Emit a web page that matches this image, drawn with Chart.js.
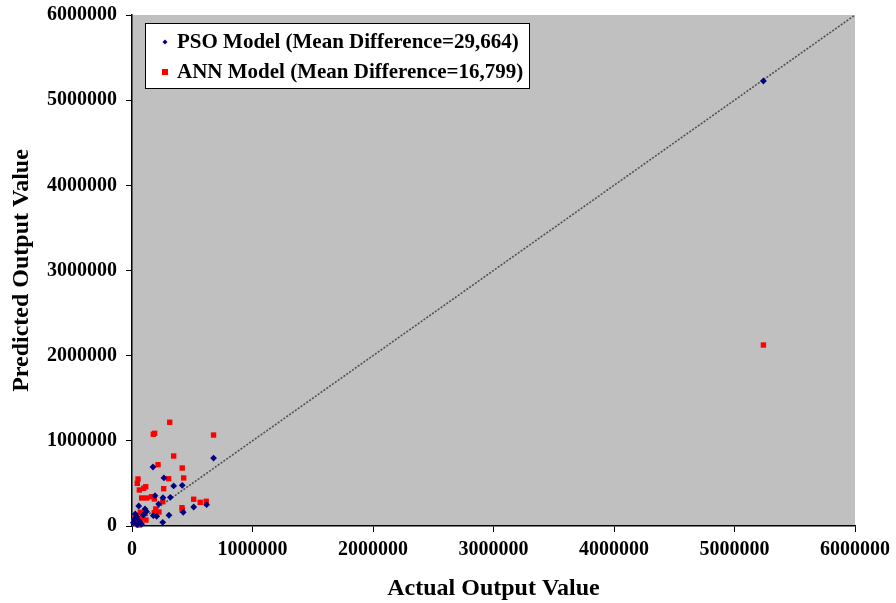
<!DOCTYPE html>
<html>
<head>
<meta charset="utf-8">
<script src="https://cdn.jsdelivr.net/npm/chart.js@4"></script>
<style>
  html, body { margin: 0; padding: 0; background: #fff; }
  #wrap { width: 896px; height: 603px; }
</style>
</head>
<body>
<div id="wrap"><canvas id="myChart"></canvas></div>
<script>
const tickValues = [0, 1000000, 2000000, 3000000, 4000000, 5000000, 6000000];

const psoActual = [5240000, 677000, 174000, 265000, 346000, 417000, 257000, 318000, 191000, 221000,
  56000, 108000, 512000, 619000, 425000, 177000, 205000, 307000, 255000, 27000,
  39000, 94000, 11000, 60000, 20000, 80000, 120000, 45000];
const psoPredicted = [5225000, 798000, 693000, 564000, 470000, 478000, 332000, 337000, 356000, 258000,
  235000, 200000, 223000, 250000, 161000, 121000, 114000, 126000, 43000, 141000,
  109000, 129000, 39000, 60000, 80000, 20000, 170000, 15000];

const annActual = [5240000, 313000, 177000, 188000, 677000, 346000, 216000, 417000, 429000, 304000,
  50000, 44000, 114000, 97000, 61000, 263000, 80000, 122000, 163000, 185000,
  255000, 512000, 566000, 616000, 415000, 417000, 197000, 224000, 185000, 69000,
  102000, 25000, 52000, 116000, 33000, 52000, 15000, 40000, 70000, 90000];
const annPredicted = [2125000, 1218000, 1077000, 1088000, 1068000, 822000, 720000, 681000, 564000, 555000,
  552000, 501000, 461000, 443000, 423000, 438000, 329000, 329000, 344000, 317000,
  285000, 314000, 278000, 290000, 215000, 188000, 200000, 164000, 156000, 161000,
  149000, 90000, 79000, 70000, 32000, 12000, 60000, 120000, 40000, 100000];

const diagonal = [0, 6000000];

const toPoints = (xs, ys) => xs.map((x, i) => ({ x: x, y: ys[i] }));

const font = "'Liberation Serif', 'Times New Roman', serif";

// grey plot area
const plotBg = {
  id: 'plotBg',
  beforeDraw(chart) {
    const { ctx, chartArea: a } = chart;
    ctx.save();
    ctx.fillStyle = '#c0c0c0';
    ctx.fillRect(a.left, a.top, a.right - a.left, a.bottom - a.top);
    ctx.restore();
  }
};

// legend box inside the plot area
const boxLegend = {
  id: 'boxLegend',
  afterDraw(chart) {
    const { ctx, chartArea: a } = chart;
    const x0 = a.left + 13, y0 = a.top + 8;
    ctx.save();
    ctx.fillStyle = '#fff';
    ctx.fillRect(x0, y0, 384, 65);
    ctx.strokeStyle = '#000';
    ctx.lineWidth = 1;
    ctx.strokeRect(x0 + 0.5, y0 + 0.5, 384, 65);
    ctx.font = 'bold 21px ' + font;
    ctx.textBaseline = 'middle';
    ctx.fillStyle = '#000';
    const rows = chart.data.datasets.filter(d => d.legendText);
    rows.forEach((d, i) => {
      const cy = y0 + 19 + i * 30;
      ctx.save();
      ctx.fillStyle = d.backgroundColor;
      if (d.pointStyle === 'rectRot') {
        ctx.beginPath();
        ctx.moveTo(x0 + 20, cy - 2.5);
        ctx.lineTo(x0 + 22.5, cy);
        ctx.lineTo(x0 + 20, cy + 2.5);
        ctx.lineTo(x0 + 17.5, cy);
        ctx.closePath();
        ctx.fill();
      } else {
        ctx.fillRect(x0 + 17, cy - 3, 6, 6);
      }
      ctx.restore();
      ctx.fillText(d.legendText, x0 + 32, cy + 1);
    });
    ctx.restore();
  }
};

const ctx1 = document.getElementById('myChart');

new Chart(ctx1, {
  type: 'scatter',
  data: {
    datasets: [
      {
        label: 'PSO Model',
        legendText: 'PSO Model (Mean Difference=29,664)',
        data: toPoints(psoActual, psoPredicted),
        pointStyle: 'rectRot',
        pointRadius: 3.4,
        backgroundColor: '#000080',
        borderColor: '#000080',
        borderWidth: 0,
        clip: false,
        order: 1
      },
      {
        label: 'ANN Model',
        legendText: 'ANN Model (Mean Difference=16,799)',
        data: toPoints(annActual, annPredicted),
        pointStyle: 'rect',
        pointRadius: 3.8,
        backgroundColor: '#ff0000',
        borderColor: '#ff0000',
        borderWidth: 0,
        clip: false,
        order: 2
      },
      {
        type: 'line',
        label: 'y = x',
        data: toPoints(diagonal, diagonal),
        borderColor: '#505050',
        borderWidth: 1.6,
        borderDash: [2, 1.5],
        pointRadius: 0,
        fill: false,
        order: 3
      }
    ]
  },
  options: {
    responsive: true,
    maintainAspectRatio: false,
    animation: false,
    layout: { padding: { top: 15, right: 40, left: 0, bottom: 0 } },
    plugins: {
      legend: { display: false },
      tooltip: { enabled: false }
    },
    scales: {
      x: {
        type: 'linear',
        min: 0,
        max: 6000000,
        afterBuildTicks: s => { s.ticks = tickValues.map(v => ({ value: v })); },
        afterFit: s => { s.height = 77; },
        grid: { drawOnChartArea: false, drawTicks: true, tickLength: 6, color: '#000', lineWidth: 1 },
        border: { display: true, color: '#000', width: 1.5 },
        ticks: {
          padding: 6,
          color: '#000',
          font: { family: font, size: 20, weight: 'bold' },
          maxRotation: 0,
          callback: v => String(v)
        },
        title: {
          display: true,
          text: 'Actual Output Value',
          color: '#000',
          font: { family: font, size: 24, weight: 'bold', lineHeight: 1 },
          padding: { top: 0, bottom: 2 }
        }
      },
      y: {
        type: 'linear',
        min: 0,
        max: 6000000,
        afterBuildTicks: s => { s.ticks = tickValues.map(v => ({ value: v })); },
        afterFit: s => { s.width = 132; s.paddingTop = 0; s.paddingBottom = 0; },
        grid: { drawOnChartArea: false, drawTicks: true, tickLength: 6, color: '#000', lineWidth: 1 },
        border: { display: true, color: '#000', width: 1.5 },
        ticks: {
          padding: 9,
          color: '#000',
          font: { family: font, size: 20, weight: 'bold' },
          callback: v => String(v)
        },
        title: {
          display: true,
          text: 'Predicted Output Value',
          color: '#000',
          font: { family: font, size: 24, weight: 'bold', lineHeight: 1 },
          padding: { top: 10, bottom: 0 }
        }
      }
    }
  },
  plugins: [plotBg, boxLegend]
});
</script>
</body>
</html>
